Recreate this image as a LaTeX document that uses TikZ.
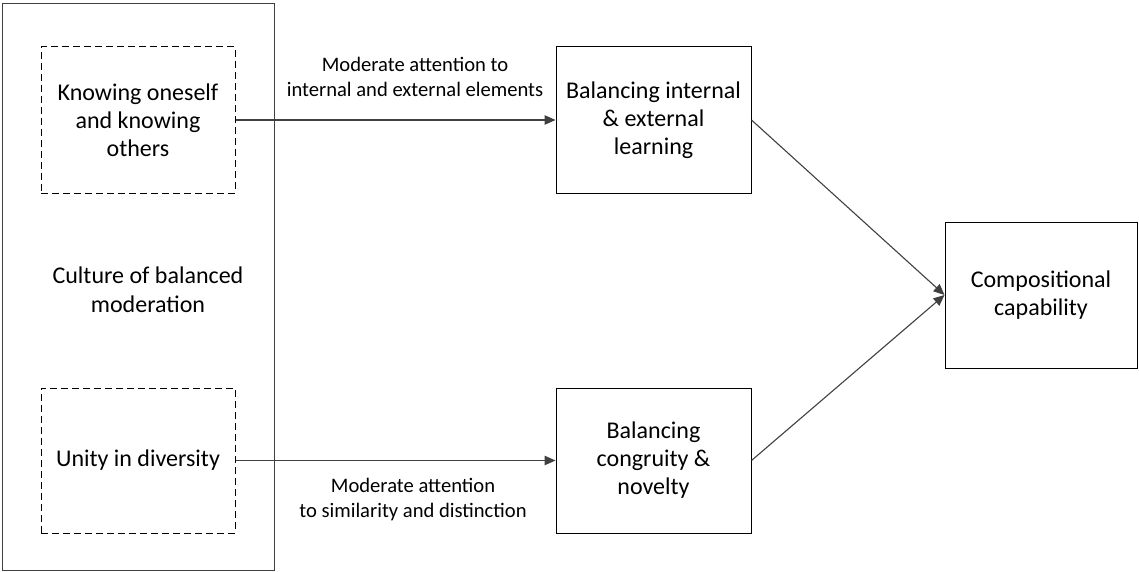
\documentclass[tikz,border=0pt]{standalone}
\usepackage{fontspec}
\setmainfont{Carlito}
\usetikzlibrary{arrows.meta}
\definecolor{linegray}{HTML}{404040}
\tikzset{
	plainbox/.style={draw=black,line width=1pt,align=center,inner sep=0pt,font=\fontsize{24}{28}\selectfont},
	dashbox/.style={plainbox,dash pattern=on 7pt off 4pt},
	linklabel/.style={align=center,font=\fontsize{20.6}{25}\selectfont},
	link/.style={->,draw=linegray,line width=1.1pt}
}
\begin{document}
\begin{tikzpicture}[line cap=butt,line join=miter,>={Triangle[length=11pt,width=9.5pt]},x=1pt,y=-1pt]
	\useasboundingbox (0,0) rectangle (1139,572);
	\node [draw=linegray,line width=1pt,minimum width=272pt,minimum height=566pt] (frame) at (138,287) {};
	\node [align=center,font=\fontsize{24}{29}\selectfont] (culture) at (148,290) {Culture of balanced\\moderation};
	\node [dashbox,minimum width=194pt,minimum height=146pt] (know) at (138,120) {Knowing oneself\\and knowing\\others};
	\node [dashbox,minimum width=194pt,minimum height=145pt] (unity) at (138,460.5) {Unity in diversity};
	\node [plainbox,minimum width=195pt,minimum height=146pt] (inner) at (653.5,120) {Balancing internal\\\& external\\learning};
	\node [plainbox,minimum width=195pt,minimum height=145pt] (novel) at (653.5,460.5) {Balancing\\congruity \&\\novelty};
	\node [plainbox,minimum width=192pt,minimum height=146pt] (comp) at (1041,295) {Compositional\\capability};
	\node [linklabel] (upper) at (415,76.5) {Moderate attention to\\internal and external elements};
	\node [linklabel] (lower) at (413,500) {Moderate attention\\to similarity and distinction};
	\draw [link] (know.east) -- (inner.west);
	\draw [link] (unity.east) -- (novel.west);
	\draw [link] (inner.east) -- (comp.west);
	\draw [link] (novel.east) -- (comp.west);
\end{tikzpicture}
\end{document}
